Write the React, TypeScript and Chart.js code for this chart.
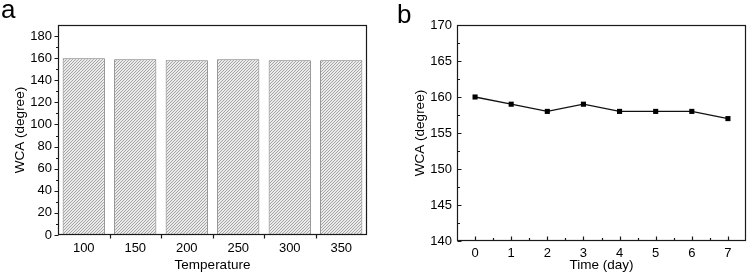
import React, { useEffect, useRef } from "react";
import { Chart, registerables } from "chart.js";

Chart.register(...registerables);

// ---- Panel a data ----
const TEMPERATURES = ["100", "150", "200", "250", "300", "350"];
const WCA_BY_TEMPERATURE = [160, 159, 158, 159, 158, 158];
const Y_TICKS_A = [0, 20, 40, 60, 80, 100, 120, 140, 160, 180];
const Y_MINOR_A = [10, 30, 50, 70, 90, 110, 130, 150, 170];

// ---- Panel b data ----
const DAYS = ["0", "1", "2", "3", "4", "5", "6", "7"];
const WCA_BY_DAY = [160, 159, 158, 159, 158, 158, 158, 157];
const Y_TICKS_B = [140, 145, 150, 155, 160, 165, 170];
const Y_MINOR_B = [142.5, 147.5, 152.5, 157.5, 162.5, 167.5];

const FONT_FAMILY = "'Liberation Sans', Arial, sans-serif";
const tickFont = { family: FONT_FAMILY, size: 13 };
const titleFont = { family: FONT_FAMILY, size: 13.5 };

function makeHatch(): CanvasPattern | string {
  const c = document.createElement("canvas");
  c.width = 3;
  c.height = 3;
  const g = c.getContext("2d");
  if (!g) return "#ccc";
  g.fillStyle = "#ebebeb";
  g.fillRect(0, 0, 3, 3);
  g.strokeStyle = "#9c9c9c";
  g.lineWidth = 0.9;
  g.beginPath();
  g.moveTo(0, 3);
  g.lineTo(3, 0);
  g.moveTo(-1, 1);
  g.lineTo(1, -1);
  g.moveTo(2, 4);
  g.lineTo(4, 2);
  g.stroke();
  const p = g.createPattern(c, "repeat");
  return p || "#ccc";
}

type TickSpec = {
  letter: string;
  letterX: number;
  letterY: number;
  inward: boolean;
  yMajor: number[];
  yMinor: number[];
  xMode: "boundaries" | "centers";
};

function framePlugin(spec: TickSpec) {
  return {
    id: "frameTicks",
    afterDraw(chart: any) {
      const { ctx, chartArea } = chart;
      const xs = chart.scales.x;
      const ys = chart.scales.y;
      const L = Math.round(chartArea.left) + 0.5;
      const R = Math.round(chartArea.right) - 0.5;
      const T = Math.round(chartArea.top) + 0.5;
      const B = Math.round(chartArea.bottom) - 0.5;
      ctx.save();
      ctx.strokeStyle = "#1a1a1a";
      ctx.lineWidth = 1.2;
      ctx.strokeRect(L, T, R - L, B - T);
      const dir = spec.inward ? 1 : -1;
      ctx.beginPath();
      const yTick = (v: number, len: number) => {
        const py = Math.round(ys.getPixelForValue(v)) + 0.5;
        ctx.moveTo(L, py);
        ctx.lineTo(L + dir * len, py);
      };
      spec.yMajor.forEach((v) => yTick(v, 4));
      spec.yMinor.forEach((v) => yTick(v, 2.5));
      const n = xs.ticks.length;
      const xTick = (px: number, len: number) => {
        const p = Math.round(px) + 0.5;
        ctx.moveTo(p, B);
        ctx.lineTo(p, B - dir * len);
      };
      if (spec.xMode === "boundaries") {
        for (let i = 0; i < n - 1; i++) {
          const a = xs.getPixelForValue(i);
          const b = xs.getPixelForValue(i + 1);
          xTick((a + b) / 2, 4);
        }
      } else {
        for (let i = 0; i < n; i++) {
          xTick(xs.getPixelForValue(i), 4);
          if (i < n - 1) {
            const a = xs.getPixelForValue(i);
            const b = xs.getPixelForValue(i + 1);
            xTick((a + b) / 2, 2.5);
          }
        }
      }
      ctx.stroke();
      ctx.fillStyle = "#000";
      ctx.font = `26px ${FONT_FAMILY}`;
      ctx.textBaseline = "alphabetic";
      ctx.textAlign = "left";
      ctx.fillText(spec.letter, spec.letterX, spec.letterY);
      ctx.restore();
    },
  };
}

function BarPanel() {
  const ref = useRef<HTMLCanvasElement>(null);
  useEffect(() => {
    if (!ref.current) return;
    const chart = new Chart(ref.current, {
      type: "bar",
      data: {
        labels: TEMPERATURES,
        datasets: [
          {
            data: WCA_BY_TEMPERATURE,
            backgroundColor: makeHatch() as any,
            borderColor: "#777",
            borderWidth: 1,
            barPercentage: 0.82,
            categoryPercentage: 1,
          },
        ],
      },
      options: {
        animation: false,
        responsive: false,
        devicePixelRatio: 1,
        layout: { padding: { top: 25, right: 13, left: 0, bottom: 0 } },
        plugins: { legend: { display: false }, tooltip: { enabled: false } },
        scales: {
          x: {
            grid: { display: false, drawTicks: false },
            border: { display: false },
            ticks: { color: "#000", font: tickFont, padding: 6 },
            title: {
              display: true,
              text: "Temperature",
              color: "#000",
              font: titleFont,
              padding: { top: 0, bottom: 0 },
            },
            afterFit: (s: any) => {
              s.height = 38;
            },
          },
          y: {
            min: 0,
            max: 190,
            grid: { display: false, drawTicks: false },
            border: { display: false },
            ticks: { color: "#000", font: tickFont, padding: 6 },
            afterBuildTicks: (s: any) => {
              s.ticks = Y_TICKS_A.map((v) => ({ value: v }));
            },
            title: {
              display: true,
              text: "WCA (degree)",
              color: "#000",
              font: titleFont,
              padding: { top: 12, bottom: 0 },
            },
            afterFit: (s: any) => {
              s.width = 58;
            },
          },
        },
      },
      plugins: [
        framePlugin({
          letter: "a",
          letterX: 1,
          letterY: 18,
          inward: false,
          yMajor: Y_TICKS_A,
          yMinor: Y_MINOR_A,
          xMode: "boundaries",
        }),
      ],
    } as any);
    return () => chart.destroy();
  }, []);
  return <canvas ref={ref} width={380} height={273} style={{ display: "block", width: 380, height: 273 }} />;
}

function LinePanel() {
  const ref = useRef<HTMLCanvasElement>(null);
  useEffect(() => {
    if (!ref.current) return;
    const chart = new Chart(ref.current, {
      type: "line",
      data: {
        labels: DAYS,
        datasets: [
          {
            data: WCA_BY_DAY,
            borderColor: "#111",
            borderWidth: 1.3,
            backgroundColor: "#000",
            pointStyle: "rect",
            pointRadius: 3.6,
            pointBorderWidth: 0,
            pointBackgroundColor: "#000",
            tension: 0,
            fill: false,
          },
        ],
      },
      options: {
        animation: false,
        responsive: false,
        devicePixelRatio: 1,
        layout: { padding: { top: 25, right: 5, left: 0, bottom: 0 } },
        plugins: { legend: { display: false }, tooltip: { enabled: false } },
        scales: {
          x: {
            offset: true,
            grid: { display: false, drawTicks: false, offset: true },
            border: { display: false },
            ticks: { color: "#000", font: tickFont, padding: 5 },
            title: {
              display: true,
              text: "Time (day)",
              color: "#000",
              font: titleFont,
              padding: { top: 0, bottom: 0 },
            },
            afterFit: (s: any) => {
              s.height = 32;
            },
          },
          y: {
            min: 140,
            max: 170,
            grid: { display: false, drawTicks: false },
            border: { display: false },
            ticks: { color: "#000", font: tickFont, padding: 5 },
            afterBuildTicks: (s: any) => {
              s.ticks = Y_TICKS_B.map((v) => ({ value: v }));
            },
            title: {
              display: true,
              text: "WCA (degree)",
              color: "#000",
              font: titleFont,
              padding: { top: 32, bottom: 0 },
            },
            afterFit: (s: any) => {
              s.width = 77;
            },
          },
        },
      },
      plugins: [
        framePlugin({
          letter: "b",
          letterX: 17,
          letterY: 23,
          inward: true,
          yMajor: Y_TICKS_B,
          yMinor: Y_MINOR_B,
          xMode: "centers",
        }),
      ],
    } as any);
    return () => chart.destroy();
  }, []);
  return <canvas ref={ref} width={371} height={273} style={{ display: "block", width: 371, height: 273 }} />;
}

export default function App() {
  return (
    <div
      style={{
        position: "fixed",
        left: 0,
        top: 0,
        width: 751,
        height: 273,
        background: "#fff",
        overflow: "hidden",
      }}
    >
      <div style={{ position: "absolute", left: 0, top: 0 }}>
        <BarPanel />
      </div>
      <div style={{ position: "absolute", left: 380, top: 0 }}>
        <LinePanel />
      </div>
    </div>
  );
}
